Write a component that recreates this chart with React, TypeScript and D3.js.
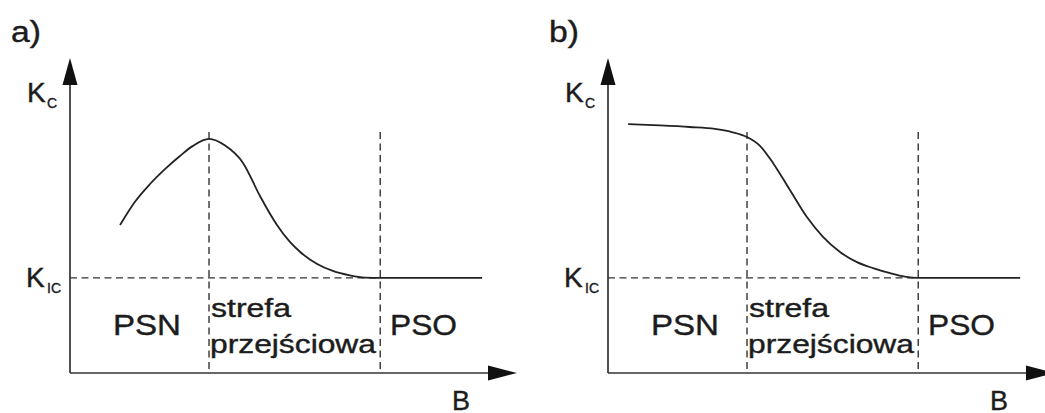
import React from "react";
import * as d3 from "d3";

// ---- data (abstract units: B and K both on 0..100 scales) ----
const curveA_B = [11.2, 14.5, 17.9, 21.3, 24.6, 27.5, 31.1, 34.7, 38.7, 42.5, 46.3, 49.2, 51.5, 55.3, 58.8, 62.6, 66.0, 69.4, 92.2];
const curveA_K = [47.0, 54.3, 60.0, 64.8, 68.9, 72.1, 74.3, 72.2, 66.7, 56.2, 47.0, 41.6, 38.4, 34.6, 32.4, 31.0, 30.3, 30.2, 30.2];
const curveB_B = [4.5, 11.6, 18.3, 23.9, 27.7, 31.1, 34.0, 36.9, 40.7, 44.5, 48.1, 51.9, 55.7, 59.3, 63.1, 66.4, 69.4, 92.2];
const curveB_K = [79.0, 78.6, 78.1, 77.5, 76.5, 74.9, 72.1, 66.7, 58.1, 49.5, 43.2, 38.4, 35.2, 33.3, 31.7, 30.6, 30.2, 30.2];
const K_IC = 30.2;
const zoneBounds = [31.1, 69.4];
const boundTop = 76.5;
const panelLabels = ["a)", "b)"];
const zoneLabels = ["PSN", "strefa", "przejściowa", "PSO"];

const W = 1045;
const H = 413;
const FONT = "'Liberation Sans', Arial, Helvetica, sans-serif";
const INK = "#1c1c1c";

const xScale = d3.scaleLinear().domain([0, 100]).range([70, 517]);
const yScale = d3.scaleLinear().domain([0, 100]).range([373, 58]);

const line = d3
  .line<[number, number]>()
  .x((d) => xScale(d[0]))
  .y((d) => yScale(d[1]))
  .curve(d3.curveMonotoneX);

function Panel({ bs, ks, label, dx }: { bs: number[]; ks: number[]; label: string; dx: number }) {
  const pts: [number, number][] = bs.map((b, i) => [b, ks[i]]);
  const x0 = xScale(0);
  const y0 = yScale(0);
  const xTip = xScale(100);
  const yTip = yScale(100);
  const dash = "7,4.5";
  return (
    <g transform={`translate(${dx},0)`}>
      {/* dashed guides */}
      <line x1={x0} x2={xScale(zoneBounds[1])} y1={yScale(K_IC)} y2={yScale(K_IC)} stroke="#333" strokeWidth={1.4} strokeDasharray={dash} />
      {zoneBounds.map((b, i) => (
        <line key={i} x1={xScale(b)} x2={xScale(b)} y1={yScale(boundTop)} y2={y0} stroke="#333" strokeWidth={1.4} strokeDasharray={dash} />
      ))}
      {/* axes */}
      <line x1={x0} x2={x0} y1={y0} y2={yTip + 20} stroke="#333" strokeWidth={1.7} />
      <line x1={x0} x2={xTip - 20} y1={y0} y2={y0} stroke="#333" strokeWidth={1.7} />
      <path d={`M${x0},${yTip} L${x0 - 7.5},${yTip + 27} L${x0 + 7.5},${yTip + 27} Z`} fill="#111" />
      <path d={`M${xTip},${y0} L${xTip - 29},${y0 - 7.5} L${xTip - 29},${y0 + 7.5} Z`} fill="#111" />
      {/* curve */}
      <path d={line(pts) || ""} fill="none" stroke="#222" strokeWidth={1.8} />
      {/* texts */}
      <g fill={INK} stroke={INK} strokeWidth={0.4} fontFamily={FONT}>
        <text x={11} y={42} fontSize={30} textLength={30} lengthAdjust="spacingAndGlyphs">{label}</text>
        <text x={27} y={102} fontSize={28}>K</text>
        <text x={47} y={108} fontSize={14}>C</text>
        <text x={26} y={287} fontSize={28}>K</text>
        <text x={47} y={293} fontSize={14}>IC</text>
        <text x={452} y={410} fontSize={27}>B</text>
        <text x={113} y={335} fontSize={30} textLength={68} lengthAdjust="spacingAndGlyphs">{zoneLabels[0]}</text>
        <text x={211} y={317} fontSize={25} textLength={80} lengthAdjust="spacingAndGlyphs">{zoneLabels[1]}</text>
        <text x={210} y={353} fontSize={25} textLength={166} lengthAdjust="spacingAndGlyphs">{zoneLabels[2]}</text>
        <text x={390} y={335} fontSize={30} textLength={67} lengthAdjust="spacingAndGlyphs">{zoneLabels[3]}</text>
      </g>
    </g>
  );
}

export default function App() {
  return (
    <svg
      width={W}
      height={H}
      viewBox={`0 0 ${W} ${H}`}
      style={{ position: "absolute", left: 0, top: 0, background: "#fff" }}
    >
      <rect width={W} height={H} fill="#fff" />
      <Panel bs={curveA_B} ks={curveA_K} label={panelLabels[0]} dx={0} />
      <Panel bs={curveB_B} ks={curveB_K} label={panelLabels[1]} dx={538} />
    </svg>
  );
}
